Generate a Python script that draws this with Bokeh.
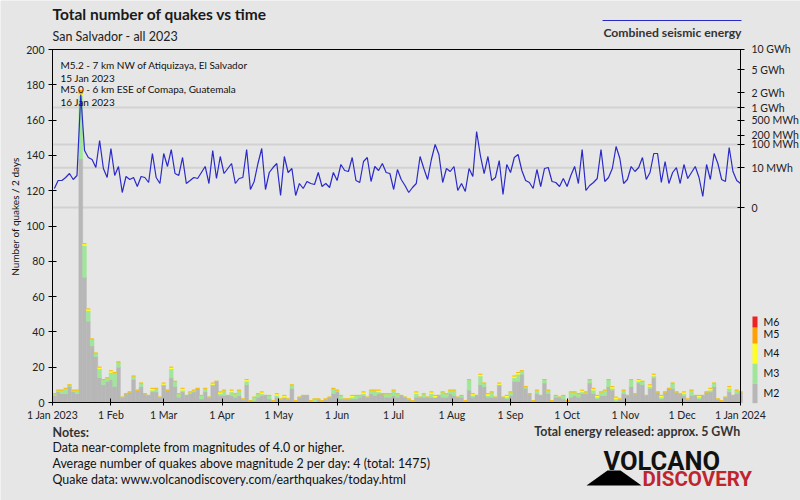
import math
from bokeh.plotting import figure
from bokeh.models import (ColumnDataSource, Range1d, LinearAxis, FixedTicker,
                          Label, BoxAnnotation, PolyAnnotation)
from bokeh.embed import file_html
from bokeh.resources import INLINE

FONT = "Lato"

# ---------------- data ----------------
month_ticks = [0, 31, 59, 90, 120, 151, 181, 212, 243, 273, 304, 334, 365]
month_labels = ["1 Jan 2023", "1 Feb", "1 Mar", "1 Apr", "1 May", "1 Jun", "1 Jul",
                "1 Aug", "1 Sep", "1 Oct", "1 Nov", "1 Dec", "1 Jan 2024"]
count_ticks = [0, 20, 40, 60, 80, 100, 120, 140, 160, 180, 200]
energy_ticks_mwh = [0, 10, 100, 200, 500, 1000, 2000, 5000, 10000]
energy_tick_labels = ["0", "10 MWh", "100 MWh", "200 MWh", "500 MWh",
                      "1 GWh", "2 GWh", "5 GWh", "10 GWh"]
energy_grid_mwh = [0, 10, 100, 1000]
bin_days = 2
year_days = 365
count_max = 200

# quakes per 2-day bin, by magnitude class
m2 = [4, 6, 5, 5, 9, 6, 5, 138, 71, 46,
      32, 26, 14, 10, 12, 13, 9, 20, 3, 5,
      6, 13, 7, 9, 5, 4, 6, 6, 3, 10,
      7, 14, 9, 3, 6, 4, 5, 6, 8, 2,
      6, 3, 10, 12, 4, 4, 4, 4, 3, 4,
      2, 10, 1, 1, 3, 4, 4, 2, 1, 3,
      2, 3, 2, 8, 1, 3, 4, 4, 1, 0,
      2, 1, 2, 3, 5, 6, 2, 2, 2, 2,
      2, 3, 4, 3, 5, 4, 5, 5, 3, 3,
      4, 3, 4, 3, 2, 1, 3, 3, 3, 3,
      3, 3, 4, 3, 3, 5, 4, 3, 3, 1,
      7, 3, 4, 10, 9, 3, 3, 3, 10, 3,
      2, 4, 12, 12, 16, 8, 5, 1, 5, 4,
      11, 5, 1, 3, 3, 2, 1, 3, 4, 3,
      5, 5, 11, 5, 2, 4, 4, 9, 7, 1,
      2, 5, 4, 9, 5, 11, 10, 4, 8, 14,
      6, 2, 6, 8, 8, 6, 5, 4, 2, 4,
      4, 2, 4, 6, 6, 9, 2, 1, 3, 6,
      4, 5, 6]
m3 = [1, 1, 2, 3, 1, 1, 2, 36, 18, 6,
      4, 2, 5, 3, 2, 4, 8, 3, 0, 0,
      0, 2, 0, 2, 0, 0, 1, 2, 0, 0,
      0, 5, 3, 2, 1, 0, 1, 1, 0, 2,
      2, 0, 0, 0, 1, 3, 0, 2, 2, 3,
      0, 2, 0, 2, 2, 1, 0, 2, 0, 1,
      0, 0, 0, 2, 0, 0, 0, 0, 0, 2,
      0, 0, 0, 0, 3, 1, 2, 0, 0, 1,
      2, 1, 1, 0, 2, 3, 1, 0, 2, 2,
      3, 2, 0, 0, 0, 0, 2, 0, 2, 0,
      2, 0, 0, 3, 2, 2, 3, 0, 1, 0,
      6, 1, 0, 5, 2, 1, 3, 0, 0, 0,
      1, 2, 2, 4, 2, 1, 0, 0, 2, 0,
      2, 2, 0, 1, 0, 2, 0, 3, 2, 2,
      1, 1, 2, 2, 1, 2, 3, 4, 1, 1,
      0, 2, 0, 4, 0, 1, 2, 0, 1, 1,
      0, 1, 0, 0, 3, 0, 0, 1, 0, 3,
      0, 1, 0, 0, 1, 2, 0, 0, 0, 2,
      0, 2, 0]
m4 = [0, 0, 0, 0, 0, 0, 0, 1, 1, 1,
      0, 0, 1, 0, 0, 1, 0, 0, 0, 0,
      0, 0, 0, 0, 0, 0, 1, 0, 0, 1,
      0, 1, 0, 0, 1, 0, 0, 0, 0, 0,
      0, 0, 1, 0, 1, 0, 0, 1, 0, 0,
      0, 1, 0, 0, 0, 1, 0, 0, 0, 1,
      0, 1, 0, 0, 0, 0, 0, 0, 0, 0,
      0, 0, 0, 0, 0, 0, 0, 0, 0, 1,
      0, 0, 1, 0, 0, 0, 1, 0, 0, 0,
      0, 0, 0, 0, 0, 0, 1, 0, 0, 0,
      1, 1, 0, 0, 0, 0, 0, 0, 0, 0,
      0, 1, 0, 1, 0, 1, 0, 0, 1, 0,
      1, 0, 1, 1, 0, 0, 0, 0, 0, 0,
      0, 0, 0, 0, 0, 0, 0, 0, 0, 0,
      1, 0, 0, 1, 1, 0, 0, 0, 1, 1,
      0, 0, 0, 0, 0, 1, 0, 0, 1, 1,
      0, 1, 0, 0, 0, 0, 0, 1, 0, 0,
      0, 1, 0, 0, 1, 0, 0, 0, 0, 1,
      0, 0, 0]
m5 = [0, 0, 0, 0, 0, 0, 0, 2, 0, 0,
      0, 0, 0, 0, 0, 0, 0, 0, 0, 0,
      0, 0, 0, 0, 0, 0, 0, 0, 0, 0,
      0, 0, 0, 0, 0, 0, 0, 0, 0, 0,
      0, 0, 0, 0, 0, 0, 0, 0, 0, 0,
      0, 0, 0, 0, 0, 0, 0, 0, 0, 0,
      0, 0, 0, 0, 0, 0, 0, 0, 0, 0,
      0, 0, 0, 0, 0, 0, 0, 0, 0, 0,
      0, 0, 0, 0, 0, 0, 0, 0, 0, 0,
      0, 0, 0, 0, 0, 0, 0, 0, 0, 0,
      0, 0, 0, 0, 0, 0, 0, 0, 0, 0,
      0, 0, 0, 0, 0, 0, 0, 0, 0, 0,
      0, 0, 0, 0, 0, 0, 0, 0, 0, 0,
      0, 0, 0, 0, 0, 0, 0, 0, 0, 0,
      0, 0, 0, 0, 0, 0, 0, 0, 0, 0,
      0, 0, 0, 0, 0, 0, 0, 0, 0, 0,
      0, 0, 0, 0, 0, 0, 0, 0, 0, 0,
      0, 0, 0, 0, 0, 0, 0, 0, 0, 0,
      0, 0, 0]

# combined seismic energy per 2-day bin (MWh)
energy_mwh = [0.248, 1.43, 1.43, 2.43, 4.54, 1.72, 3.36, 1840, 60.2, 31.3,
              25.5, 10.2, 135, 9.02, 2.43, 71.5, 3.36, 11.6, 0.0759, 2.86,
              1.72, 2.43, 0.408, 2.86, 2.43, 0.977, 45.9, 2.43, 0.796, 45.9,
              11.6, 65.6, 4.54, 3.36, 31.3, 0.796, 1.43, 2.43, 2.05, 5.25,
              11.6, 0.796, 60.2, 2.05, 34.5, 4.54, 9.02, 16.5, 0.796, 2.05,
              2.43, 65.6, 0.189, 1.19, 16.5, 71.5, 0.189, 5.25, 10.2, 16.5,
              0.0249, 34.5, 5.25, 9.02, 0.0249, 0.796, 0.248, 1.19, 0.796, 0.644,
              5.25, 0.408, 0.796, 0.32, 5.25, 1.43, 14.7, 6.93, 6.05, 31.3,
              1.43, 0.977, 20.6, 31.3, 1.19, 11.6, 6.93, 16.5, 5.25, 4.54,
              0.189, 7.92, 1.72, 0.515, 0.0759, 0.32, 0.796, 34.5, 9.02, 1.72,
              25.5, 99.2, 41.8, 0.977, 9.02, 6.05, 11.6, 0.142, 0.796, 0.105,
              9.02, 2.86, 254, 38.0, 4.54, 34.5, 1.43, 2.43, 22.9, 0.0371,
              14.7, 5.25, 31.3, 41.8, 6.93, 1.43, 0.977, 0.248, 7.92, 0.408,
              9.02, 10.2, 1.19, 0.977, 0.408, 2.05, 0.408, 3.36, 11.6, 0.796,
              65.6, 0.142, 0.515, 0.977, 2.05, 65.6, 1.19, 2.43, 9.02, 84.5,
              28.2, 0.796, 1.72, 11.6, 6.05, 10.2, 31.3, 1.72, 5.25, 45.9,
              45.9, 0.977, 20.6, 0.796, 5.25, 10.2, 0.796, 14.7, 2.05, 5.25,
              11.6, 2.43, 0.0161, 14.7, 1.72, 45.9, 16.5, 1.72, 1.19, 77.8,
              6.05, 1.43, 0.796]

mag_classes = ["M2", "M3", "M4", "M5", "M6"]
mag_colors = ["#b7b7b7", "#a0e69a", "#ffff22", "#ffa200", "#ee2222"]

title = "Total number of quakes vs time"
subtitle = "San Salvador - all 2023"
events = ["M5.2 - 7 km NW of Atiquizaya, El Salvador", "15 Jan 2023",
          "M5.0 - 6 km ESE of Comapa, Guatemala", "16 Jan 2023"]
notes = ["Data near-complete from magnitudes of 4.0 or higher.",
         "Average number of quakes above magnitude 2 per day: 4 (total: 1475)",
         "Quake data: www.volcanodiscovery.com/earthquakes/today.html"]
total_energy_text = "Total energy released: approx. 5 GWh"


def energy_axis(e):
    # fifth-root energy scale: 1 GWh -> 100
    return 100.0 * (e / 1000.0) ** 0.2


# ---------------- layout (canvas px) ----------------
W, H = 800, 500
PL, PR, PT, PB = 52, 740, 49, 402          # plot box in canvas px
E0_Y = 207                                   # canvas y of zero energy
kx = (PR - PL) / year_days
ky = (PB - PT) / count_max

BG = "#e6e6e6"
p = figure(width=W, height=H,
           x_range=Range1d(-PL / kx, year_days + (W - PR) / kx),
           y_range=Range1d(-(H - PB) / ky, count_max + PT / ky),
           x_axis_location=None, y_axis_location=None,
           output_backend="svg", toolbar_location=None,
           min_border=0, min_border_left=0, min_border_right=0,
           min_border_top=0, min_border_bottom=0,
           background_fill_color=BG, border_fill_color=BG, outline_line_color=None)
p.title.visible = False
p.grid.visible = False
p.extra_y_ranges = {"energy": Range1d(-(H - E0_Y), E0_Y)}
e_lo = -(PB - E0_Y)
e_hi = E0_Y - PT

xa = LinearAxis(fixed_location=0, bounds=(0, year_days),
                ticker=FixedTicker(ticks=month_ticks),
                major_label_overrides={t: lab for t, lab in zip(month_ticks, month_labels)})
ya = LinearAxis(fixed_location=0, bounds=(0, count_max),
                ticker=FixedTicker(ticks=count_ticks))
ea = LinearAxis(y_range_name="energy", fixed_location=year_days, bounds=(e_lo, e_hi),
                ticker=FixedTicker(ticks=[energy_axis(e) for e in energy_ticks_mwh]),
                major_label_overrides={energy_axis(e): lab for e, lab in zip(energy_ticks_mwh, energy_tick_labels)})
ta = LinearAxis(fixed_location=count_max, bounds=(0, year_days), ticker=FixedTicker(ticks=[]))
p.add_layout(xa, "below")
p.add_layout(ya, "left")
p.add_layout(ea, "right")
p.add_layout(ta, "above")

for ax in (xa, ya, ea, ta):
    ax.axis_line_color = "black"
    ax.axis_line_width = 1
    ax.major_tick_line_color = "black"
    ax.minor_tick_line_color = None
    ax.major_label_text_font = FONT
    ax.major_label_text_font_size = "10.5px"
    ax.major_label_text_color = "#222222"
    ax.major_tick_in = 4
    ax.major_tick_out = 4
    ax.major_label_standoff = 4
xa.major_tick_out = 3
xa.major_label_standoff = 3
ea.major_tick_in = 3
ea.major_label_standoff = 7

# energy grid lines across the plot box
grid_t = [energy_axis(e) for e in energy_grid_mwh]
p.segment(x0=[0] * len(grid_t), x1=[year_days] * len(grid_t), y0=grid_t, y1=grid_t,
          y_range_name="energy", line_color="#d2d2d2", line_width=2)

n = len(m2)
x = [bin_days * i + bin_days / 2 for i in range(n)]
src = ColumnDataSource(dict(x=x, M2=m2, M3=m3, M4=m4, M5=m5,
                            e=[energy_axis(v) for v in energy_mwh]))
p.vbar_stack(["M2", "M3", "M4", "M5"], x="x", width=bin_days, source=src,
             fill_color=mag_colors[:4], line_color=mag_colors[:4], line_width=0.5)
p.line("x", "e", source=src, y_range_name="energy", line_color="#2a2ac8", line_width=1.2)


# ---------------- texts (canvas px; y measured from bottom) ----------------
def add_text(text, cx, cy, size, bold=False, color="#222222", align="left", angle=0.0, font=FONT):
    p.add_layout(Label(x=cx, y=H - cy, x_units="screen", y_units="screen", text=text,
                       text_font=font, text_font_size=f"{size}px",
                       text_font_style="bold" if bold else "normal",
                       text_color=color, text_align=align, text_baseline="middle", angle=angle))


def add_box(x0, x1, y0, y1, color):
    p.add_layout(BoxAnnotation(left=x0, right=x1, bottom=H - y1, top=H - y0,
                               left_units="screen", right_units="screen",
                               bottom_units="screen", top_units="screen",
                               fill_color=color, fill_alpha=1, line_color=None))


add_text(title, 52, 13, 15.5, bold=True, color="#1a1a1a")
add_text(subtitle, 52, 35.5, 12.5)
add_box(602, 741, 19.5, 20.5, "#2a2ac8")
add_text("Combined seismic energy", 741, 32, 12.2, bold=True, align="right", color="#333333")

for i, t in enumerate(events):
    add_text(t, 60, [64, 77, 88, 101][i], 10, color="#111111")

add_text("Number of quakes / 2 days", 14, 216, 10, angle=math.pi / 2, align="center", color="#111111")

# magnitude colour key
key_edges = [402.7, 383, 363, 343, 327, 316]
key_label_y = [392, 372, 352, 333, 321]
for i, (lab, col) in enumerate(zip(mag_classes, mag_colors)):
    add_box(752, 757, key_edges[i + 1], key_edges[i], col)
    add_text(lab, 763, key_label_y[i], 10.5, color="#111111")

add_text("Notes:", 52, 431.5, 12.5, bold=True, color="#333333")
for i, t in enumerate(notes):
    add_text(t, 52, [447, 463, 479][i], 12.4, color="#111111")
add_text(total_energy_text, 740, 430.5, 12.4, bold=True, align="right", color="#333333")

# logo
p.add_layout(PolyAnnotation(xs=[586, 607, 620, 641], ys=[H - 485, H - 470, H - 470, H - 485],
                            xs_units="screen", ys_units="screen",
                            fill_color="black", fill_alpha=1, line_color=None))
add_text("VOLCANO", 603, 460, 25.5, bold=True, color="#111111", font="Roboto")
add_text("DISCOVERY", 642, 478, 20.5, bold=True, color="#c0252d", font="Roboto")

open("out.html", "w").write(file_html(p, INLINE))
